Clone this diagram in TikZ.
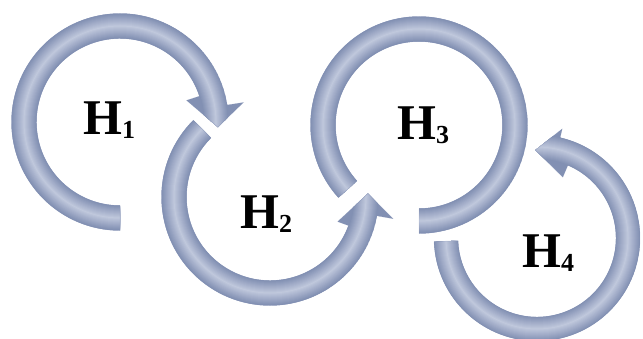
\documentclass[tikz,border=0pt]{standalone}
\usepackage{fontspec}
\setmainfont{Liberation Serif}
\usetikzlibrary{calc}
\definecolor{ringdark}{RGB}{130,144,179}
\definecolor{ringlight}{RGB}{194,202,222}
\newcommand\hsub[1]{H\raisebox{-4pt}{\fontsize{26}{26}\selectfont #1}}
% #1 centre, #2 mid radius, #3 outline of the band
\newcommand\ringarrow[3]{%
  \begin{scope}[shift={#1}]
    \begin{scope}
      \clip #3;
      \draw[line width=60pt,ringdark] (0,0) circle (#2);
      \foreach \i in {0,...,12}{
        \pgfmathtruncatemacro\w{25-2*\i}
        \pgfmathtruncatemacro\s{\i*8}
        \draw[line width=\w pt,ringlight!\s!ringdark] (0,0) circle (#2);}
    \end{scope}
    \draw[ringdark,line width=0.4pt,opacity=0.4] #3;
  \end{scope}}

\begin{document}
\begin{tikzpicture}[x=1pt,y=1pt,lbl/.style={font=\fontsize{50}{50}\selectfont\bfseries,anchor=base west,inner sep=0}]
\useasboundingbox (0,0) rectangle (643,338);
\ringarrow{(120,216)}{96}{(270:108.5) arc[start angle=270,end angle=9,radius=108.5] -- (9:125) -- (-3:98) -- (18:70) -- (18:83.5) arc[start angle=18,end angle=270,radius=83.5] -- cycle}
\ringarrow{(270,141)}{96}{(135:108.5) arc[start angle=135,end angle=350,radius=108.5] -- (350:125) -- (362:98) -- (340:72) -- (340:83.5) arc[start angle=340,end angle=135,radius=83.5] -- cycle}
\ringarrow{(419,213)}{96}{(222:108.5) arc[start angle=222,end angle=-90,radius=108.5] -- (-90:83.5) arc[start angle=-90,end angle=222,radius=83.5] -- cycle}
\ringarrow{(537,100)}{91}{(182:103) arc[start angle=182,end angle=437,radius=103] -- (437:112) -- (451:88) -- (427:66) -- (427:79) arc[start angle=427,end angle=182,radius=79] -- cycle}
\node[lbl](h1) at (83,203){\hsub{1}};
\node[lbl](h2) at (240,110){\hsub{2}};
\node[lbl](h3) at (397,198){\hsub{3}};
\node[lbl](h4) at (522,71){\hsub{4}};
\end{tikzpicture}
\end{document}
